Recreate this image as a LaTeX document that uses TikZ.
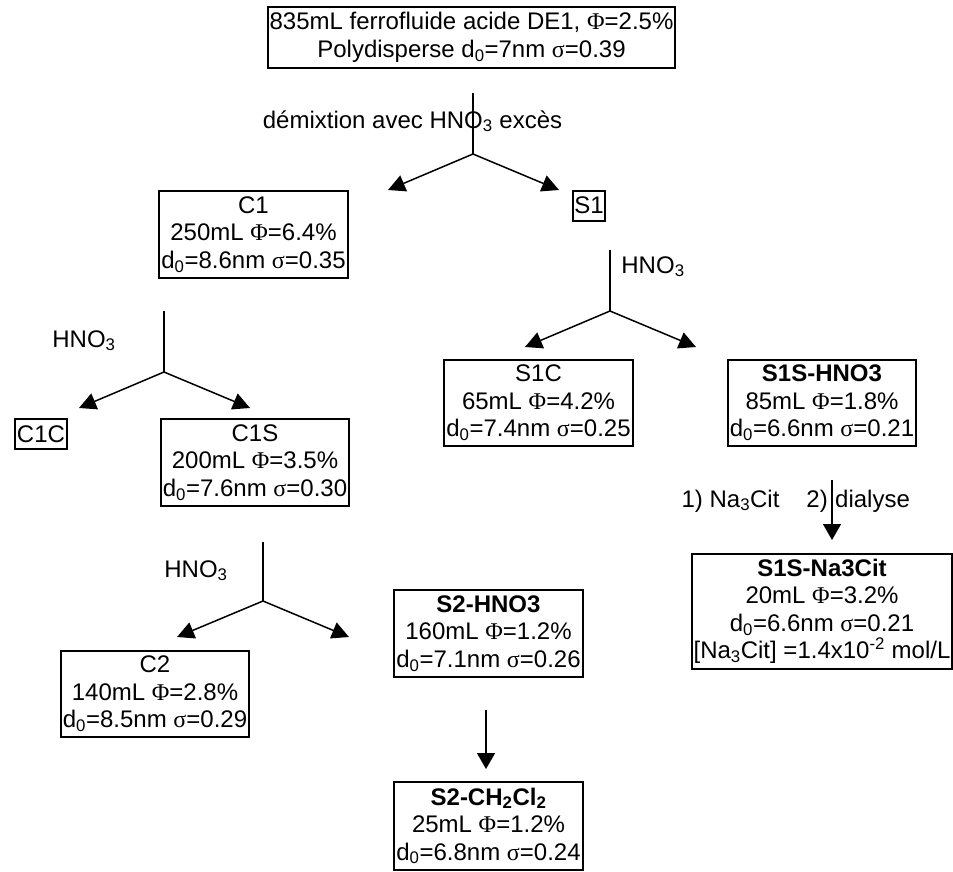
\documentclass[tikz,border=0pt]{standalone}
\usepackage{fontspec}
\setmainfont{Liberation Sans}
\newfontfamily\symf{Liberation Serif}
\usetikzlibrary{arrows.meta}
\newcommand\PhiS{{\symf Φ}}
\newcommand\sigS{{\symf σ}}
\newcommand\dz{d\textsubscript{0}}
\begin{document}
\begin{tikzpicture}[x=1pt,y=-1pt,
  font=\fontsize{24}{27.5}\selectfont,
  box/.style={draw, line width=2pt, align=center, inner xsep=2pt, inner ysep=5.5pt},
  sbox/.style={draw, line width=2pt, inner xsep=1.5pt, inner ysep=6.5pt},
  lbl/.style={inner sep=0pt, anchor=base},
  conn/.style={line width=1.5pt},
  arr/.style={conn, -{Triangle[length=17pt,width=17pt]}},
  darr/.style={conn, -{Triangle[length=16pt,width=18pt]}}]
\useasboundingbox (0,0) rectangle (953,871);

% boxes
\node[box] (top) at (471.5,37.5) {835mL ferrofluide acide DE1, \PhiS=2.5\%\\Polydisperse \dz=7nm \sigS=0.39};
\node[box] (C1) at (253.5,234.5) {C1\\250mL \PhiS=6.4\%\\\dz=8.6nm \sigS=0.35};
\node[sbox] (S1) at (589,205.5) {S1};
\node[box] (S1C) at (538.5,403) {S1C\\65mL \PhiS=4.2\%\\\dz=7.4nm \sigS=0.25};
\node[box] (S1SH) at (822,403) {\textbf{S1S-HNO3}\\85mL \PhiS=1.8\%\\\dz=6.6nm \sigS=0.21};
\node[box] (S1SN) at (822,611.5) {\textbf{S1S-Na3Cit}\\20mL \PhiS=3.2\%\\\dz=6.6nm \sigS=0.21\\{}[Na\textsubscript{3}Cit] =1.4x10\textsuperscript{-2} mol/L};
\node[sbox] (C1C) at (41,434) {C1C};
\node[box] (C1S) at (255,462.5) {C1S\\200mL \PhiS=3.5\%\\\dz=7.6nm \sigS=0.30};
\node[box] (C2) at (155,694) {C2\\140mL \PhiS=2.8\%\\\dz=8.5nm \sigS=0.29};
\node[box] (S2H) at (488.5,633.5) {\textbf{S2-HNO3}\\160mL \PhiS=1.2\%\\\dz=7.1nm \sigS=0.26};
\node[box] (S2C) at (488.5,826) {\textbf{S2-CH\textsubscript{2}Cl\textsubscript{2}}\\25mL \PhiS=1.2\%\\\dz=6.8nm \sigS=0.24};

% labels
\node[lbl] (l1) at (412.5,128) {démixtion avec HNO\textsubscript{3} excès};
\node[lbl] (l2) at (653,273) {HNO\textsubscript{3}};
\node[lbl] (l3) at (84,347) {HNO\textsubscript{3}};
\node[lbl] (l4) at (196,577) {HNO\textsubscript{3}};
\node[inner sep=0pt, anchor=base east] (l5) at (828,507) {1) Na\textsubscript{3}Cit\hspace{27pt}2)};
\node[inner sep=0pt, anchor=base west] (l6) at (835,507) {dialyse};

% fork 1
\coordinate (f1t) at (473,93);
\coordinate (f1) at (473,154);
\coordinate (f1a) at (388,190);
\coordinate (f1b) at (559,190);
\draw[conn] (f1t) -- (f1);
\draw[arr] (f1) -- (f1a);
\draw[arr] (f1) -- (f1b);

% fork 2
\coordinate (f2t) at (610,250);
\coordinate (f2) at (610,311);
\coordinate (f2a) at (525,347);
\coordinate (f2b) at (696,347);
\draw[conn] (f2t) -- (f2);
\draw[arr] (f2) -- (f2a);
\draw[arr] (f2) -- (f2b);

% fork 3
\coordinate (f3t) at (164,311);
\coordinate (f3) at (164,372);
\coordinate (f3a) at (79,408);
\coordinate (f3b) at (250,408);
\draw[conn] (f3t) -- (f3);
\draw[arr] (f3) -- (f3a);
\draw[arr] (f3) -- (f3b);

% fork 4
\coordinate (f4t) at (263,542);
\coordinate (f4) at (263,601);
\coordinate (f4a) at (177,637);
\coordinate (f4b) at (349,637);
\draw[conn] (f4t) -- (f4);
\draw[arr] (f4) -- (f4a);
\draw[arr] (f4) -- (f4b);

% straight arrows
\coordinate (a1t) at (832,480);
\coordinate (a1b) at (832,540);
\draw[darr] (a1t) -- (a1b);
\coordinate (a2t) at (486,710);
\coordinate (a2b) at (486,769);
\draw[darr] (a2t) -- (a2b);
\end{tikzpicture}
\end{document}
